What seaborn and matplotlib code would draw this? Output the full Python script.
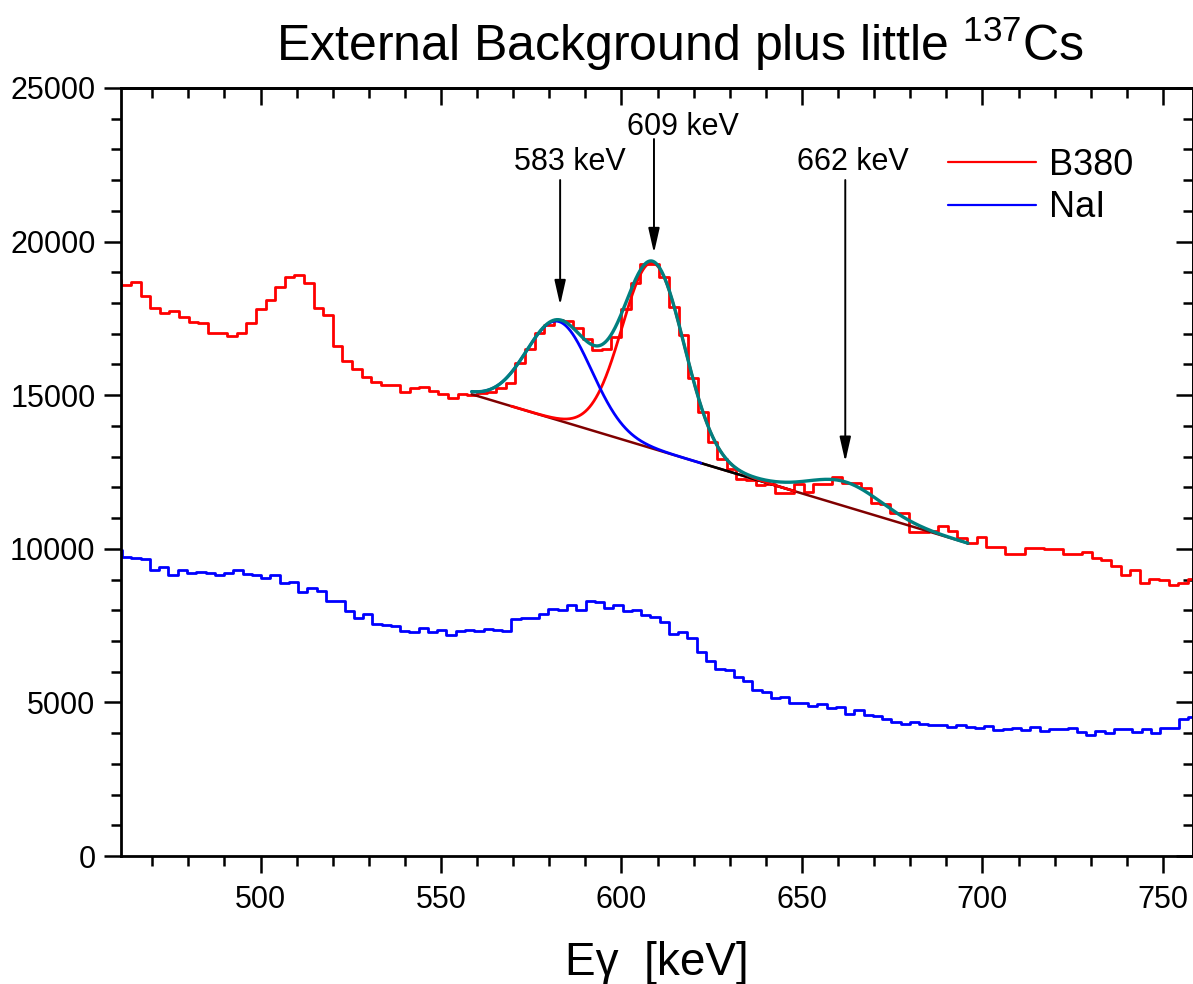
import numpy as np
import pandas as pd
import matplotlib
matplotlib.use("Agg")
import matplotlib.pyplot as plt
import seaborn as sns
from matplotlib import font_manager as fm
from matplotlib.ticker import MultipleLocator
from matplotlib.lines import Line2D

# ---------------- data ----------------
# B380 spectrum: channel calibration (bin edge energy = offset + gain * k)
b380_offset = 458.79
b380_gain = 2.662
b380_counts = [
    18750, 18586, 18694, 18228, 17827, 17664, 17740, 17555, 17372, 17339,
    17014, 17034, 16926, 17014, 17339, 17794, 18098, 18532, 18857, 18912,
    18640, 17848, 17610, 16600, 16112, 15852, 15602, 15428, 15331, 15331,
    15092, 15244, 15266, 15146, 15027, 14918, 15027, 15000, 15070, 15114,
    15222, 15385, 16036, 16492, 17013, 17300, 17447, 17424, 17175, 16817,
    16470, 16500, 16882, 17794, 18640, 19270, 19270, 18857, 17881, 16958,
    15548, 14463, 13470, 12930, 12600, 12261, 12239, 12076, 12109, 11826,
    11826, 12109, 11858, 12109, 12109, 12326, 12152, 12152, 11968, 11480,
    11458, 11175, 11154, 10556, 10556, 10578, 10741, 10578, 10361, 10178,
    10394, 10068, 10068, 9830, 9830, 10016, 10016, 9983, 9983, 9830,
    9830, 9905, 9688, 9635, 9440, 9147, 9310, 8876, 9006, 8984,
    8821, 8876, 9006,
]

# NaI spectrum
nai_offset = 459.07
nai_gain = 2.568
nai_counts = [
    9950, 9722, 9700, 9667, 9311, 9411, 9133, 9311, 9222, 9233,
    9211, 9133, 9222, 9311, 9189, 9133, 9056, 9144, 8889, 8933,
    8589, 8711, 8633, 8311, 8311, 7978, 7756, 7867, 7556, 7522,
    7478, 7333, 7289, 7422, 7278, 7356, 7178, 7322, 7356, 7333,
    7400, 7356, 7322, 7700, 7744, 7756, 7867, 8056, 8000, 8156,
    8000, 8300, 8256, 8078, 8156, 7989, 8011, 7850, 7780, 7615,
    7230, 7292, 7095, 6638, 6332, 6093, 6060, 5842, 5711, 5417,
    5351, 5133, 5188, 4970, 4970, 4894, 4948, 4806, 4839, 4621,
    4752, 4599, 4545, 4447, 4349, 4294, 4360, 4283, 4250, 4272,
    4185, 4272, 4207, 4163, 4218, 4098, 4120, 4152, 4098, 4185,
    4076, 4141, 4120, 4152, 4043, 3934, 4076, 3989, 4131, 4131,
    4022, 4120, 4011, 4174, 4163, 4447, 4534,
]

# Multi-peak Gaussian fit on the B380 spectrum (parameters)
fit_range = [558.5, 696.0]
fit_background = [15030, 10180]          # linear baseline at the two ends
peak_centers = [582.7, 608.8, 662.0]
peak_sigmas = [9.0, 8.6, 10.0]
peak_amplitudes = [3220, 6050, 800]
peak_window_halfwidth = 39.3
baseline_segment = [622.0, 648.0]

# Annotations
peak_labels = ["583 keV", "609 keV", "662 keV"]
label_x = [585.7, 617.0, 664.0]
label_y = [22330, 23469, 22330]
arrow_x = [583.0, 609.0, 662.0]
arrow_from = [22004, 23339, 22004]
arrow_to = [17935, 19628, 12835]

series_names = ["B380", "NaI"]
series_colors = ["#ff0000", "#0000ff"]

# ---------------- style ----------------
sns.set_style("ticks")


def have(name):
    try:
        fm.findfont(fm.FontProperties(family=name), fallback_to_default=False)
        return True
    except Exception:
        return False


base_font = "Liberation Sans" if have("Liberation Sans") else "DejaVu Sans"
narrow_font = "Liberation Sans Narrow" if have("Liberation Sans Narrow") else None

plt.rcParams["font.family"] = [base_font, "DejaVu Sans"]
plt.rcParams["mathtext.fontset"] = "custom"
plt.rcParams["mathtext.default"] = "regular"
for key in ["text.color", "axes.labelcolor", "xtick.color", "ytick.color",
            "axes.edgecolor", "xtick.labelcolor", "ytick.labelcolor"]:
    plt.rcParams[key] = "black"

W, H = 1193, 984
fig = plt.figure(figsize=(W / 100, H / 100), dpi=100)
ax = fig.add_axes([120.5 / W, 1 - 856 / H, (1192.5 - 120.5) / W, (856 - 88) / H])

xmin, xmax = 461.2, 758.2
ax.set_xlim(xmin, xmax)
ax.set_ylim(0, 25000)

# ---------------- histograms ----------------
def hist_df(offset, gain, counts):
    edges = offset + gain * np.arange(len(counts) + 1)
    return pd.DataFrame({"E": edges, "N": list(counts) + [counts[-1]]})

for name, color, off, gain, cnt in [
    ("B380", series_colors[0], b380_offset, b380_gain, b380_counts),
    ("NaI", series_colors[1], nai_offset, nai_gain, nai_counts),
]:
    sns.lineplot(data=hist_df(off, gain, cnt), x="E", y="N", ax=ax,
                 drawstyle="steps-post", color=color, lw=2.0,
                 estimator=None, sort=False, legend=False)

# ---------------- fit curves ----------------
def baseline(E):
    return fit_background[0] + (fit_background[1] - fit_background[0]) * \
        (E - fit_range[0]) / (fit_range[1] - fit_range[0])

def gauss(E, i):
    return peak_amplitudes[i] * np.exp(-0.5 * ((E - peak_centers[i]) / peak_sigmas[i]) ** 2)

def curve(lo, hi, n=400):
    return np.linspace(lo, hi, n)

# baseline (wine)
E = curve(*fit_range)
sns.lineplot(x=E, y=baseline(E), ax=ax, color="#800000", lw=1.8, sort=False,
             estimator=None, legend=False)
# baseline segment (black)
E = curve(*baseline_segment)
sns.lineplot(x=E, y=baseline(E), ax=ax, color="black", lw=1.8, sort=False,
             estimator=None, legend=False)
# 609 keV component (red)
lo = max(fit_range[0], peak_centers[1] - peak_window_halfwidth)
hi = min(fit_range[1], peak_centers[1] + peak_window_halfwidth)
E = curve(lo, hi)
sns.lineplot(x=E, y=baseline(E) + gauss(E, 1), ax=ax, color="#ff0000", lw=2.0,
             sort=False, estimator=None, legend=False)
# 583 keV component (blue)
lo = max(fit_range[0], peak_centers[0] - peak_window_halfwidth)
hi = min(fit_range[1], peak_centers[0] + peak_window_halfwidth)
E = curve(lo, hi)
sns.lineplot(x=E, y=baseline(E) + gauss(E, 0), ax=ax, color="#0000ff", lw=2.0,
             sort=False, estimator=None, legend=False)
# cumulative fit (dark cyan)
E = curve(*fit_range, n=800)
total = baseline(E) + sum(gauss(E, i) for i in range(3))
sns.lineplot(x=E, y=total, ax=ax, color="#008080", lw=2.4, sort=False,
             estimator=None, legend=False)

# ---------------- annotations ----------------
for txt, tx, ty, axx, y0, y1 in zip(peak_labels, label_x, label_y, arrow_x, arrow_from, arrow_to):
    ax.text(tx, ty, txt, ha="center", va="baseline", fontsize=22, color="black")
    ax.annotate("", xy=(axx, y1), xytext=(axx, y0),
                arrowprops=dict(arrowstyle="-|>,head_length=0.75,head_width=0.17",
                                mutation_scale=20, lw=1.4, color="black",
                                shrinkA=0, shrinkB=0))

# ---------------- axes cosmetics ----------------
ax.xaxis.set_major_locator(MultipleLocator(50))
ax.xaxis.set_minor_locator(MultipleLocator(10))
ax.yaxis.set_major_locator(MultipleLocator(5000))
ax.yaxis.set_minor_locator(MultipleLocator(1000))
ax.tick_params(which="both", direction="out", width=1.8, labelsize=22,
               top=False, right=False, color="black", labelcolor="black")
ax.tick_params(which="major", length=12)
ax.tick_params(which="minor", length=7)
ax.tick_params(axis="y", pad=6)
ax.tick_params(axis="x", pad=9)
for s in ax.spines.values():
    s.set_linewidth(2.0)
    s.set_visible(True)
    s.set_color("black")
ax.set_xlabel("")
ax.set_ylabel("")

secx = ax.secondary_xaxis("top")
secx.xaxis.set_major_locator(MultipleLocator(50))
secx.xaxis.set_minor_locator(MultipleLocator(10))
secx.tick_params(which="both", direction="in", width=1.8, labeltop=False, color="black")
secx.tick_params(which="major", length=12)
secx.tick_params(which="minor", length=7)
secx.spines["top"].set_linewidth(2.0)
secx.spines["top"].set_color("black")

secy = ax.secondary_yaxis("right")
secy.yaxis.set_major_locator(MultipleLocator(5000))
secy.yaxis.set_minor_locator(MultipleLocator(1000))
secy.tick_params(which="both", direction="in", width=1.8, labelright=False, color="black")
secy.tick_params(which="major", length=12)
secy.tick_params(which="minor", length=7)
secy.spines["right"].set_linewidth(2.0)
secy.spines["right"].set_color("black")

# legend
handles = [Line2D([], [], color=c, lw=1.6) for c in series_colors]
ax.legend(handles, series_names, loc="upper left", frameon=False,
          bbox_to_anchor=(948 / W, 1 - 148 / H), bbox_transform=fig.transFigure,
          fontsize=26, handlelength=2.45, handletextpad=0.35, labelspacing=0.2,
          borderpad=0, borderaxespad=0, labelcolor="black")

# x label
fig.text(656.5 / W, 1 - 975 / H, "E\u03b3  [keV]", ha="center", va="baseline",
         fontsize=33, color="black")

# title
title = "External Background plus little $^{137}$Cs"
if narrow_font:
    fig.text(680 / W, 1 - 61 / H, title, ha="center", va="baseline",
             fontsize=41, family=[narrow_font, base_font], color="black")
else:
    fig.text(680 / W, 1 - 61 / H, title, ha="center", va="baseline",
             fontsize=36, color="black")

fig.savefig("out.png", dpi=100)
